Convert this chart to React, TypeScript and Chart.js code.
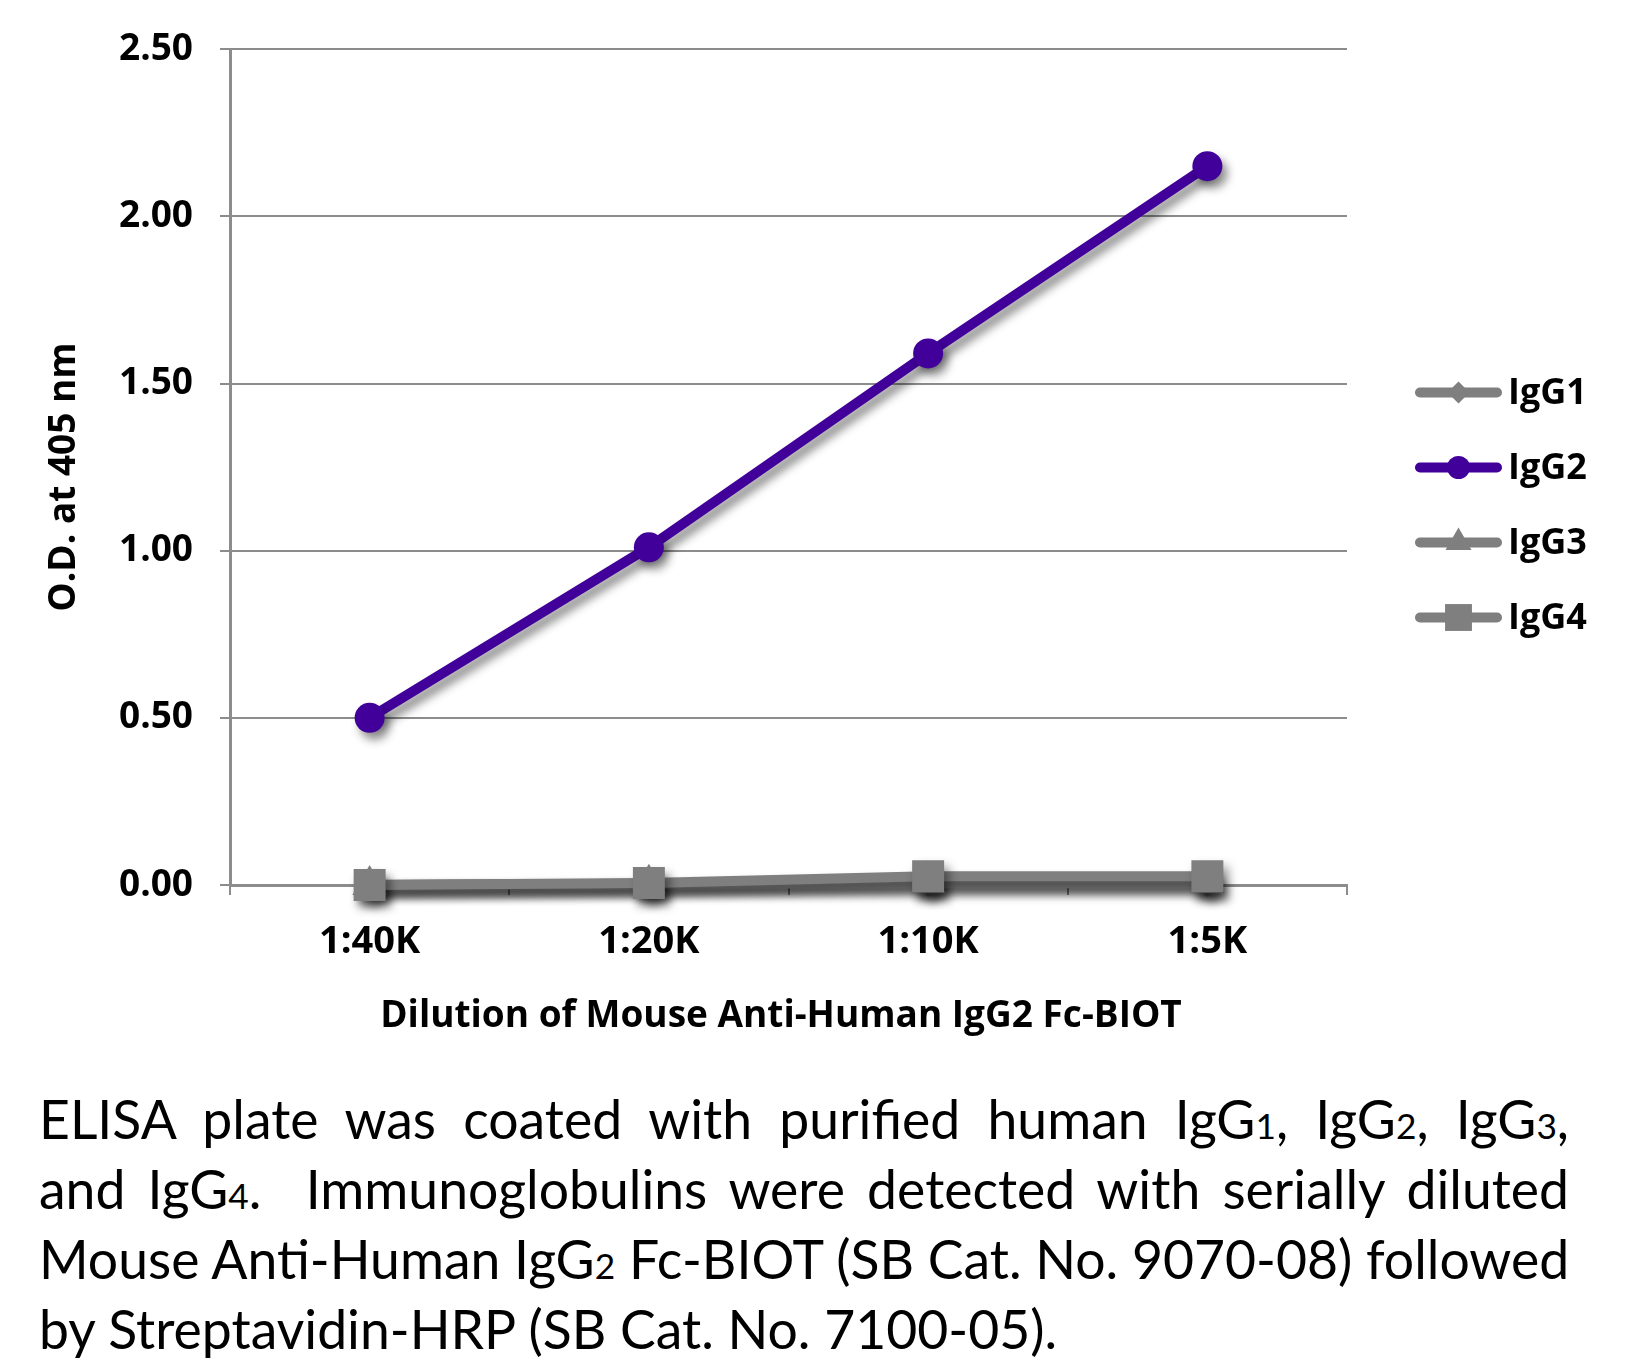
import React, { useEffect, useRef } from 'react';
import { Chart, registerables } from 'chart.js';
import { drawPoint } from 'chart.js/helpers';

Chart.register(...registerables);

const categories = ['1:40K', '1:20K', '1:10K', '1:5K'];
const seriesNames = ['IgG1', 'IgG2', 'IgG3', 'IgG4'];
const igg1 = [0.0, 0.004, 0.012, 0.012];
const igg2 = [0.5, 1.01, 1.59, 2.15];
const igg3 = [0.0, 0.004, 0.005, 0.005];
const igg4 = [0.0, 0.006, 0.026, 0.026];
const yTicks = [0, 0.5, 1.0, 1.5, 2.0, 2.5];
const yTitle = 'O.D. at 405 nm';
const xTitle = 'Dilution of Mouse Anti-Human IgG2 Fc-BIOT';

const GRAY = '#7f7f7f';
const PURPLE = '#41009a';
const GRID = '#8c8c8c';
const FONT = '"Open Sans", "Noto Sans", sans-serif';

const CANVAS_W = 1626;
const CANVAS_H = 1060;
const AREA_TOP = 45;
const AREA_BOTTOM = 885;
const AREA_LEFT = 230;
const AREA_RIGHT = 1347;

function makeSeries(label: string, data: number[], color: string, style: string, r: number, lr: number, order: number) {
  return {
    label,
    data,
    borderColor: color,
    backgroundColor: color,
    pointBackgroundColor: color,
    pointBorderColor: color,
    pointBorderWidth: 0,
    borderWidth: 10,
    pointStyle: style,
    pointRadius: r,
    pointHoverRadius: r,
    tension: 0,
    clip: false as any,
    order,
    legendRadius: lr,
  } as any;
}

const shadowPlugin = {
  id: 'markerShadow',
  beforeDatasetsDraw(chart: any) {
    const c = chart.ctx;
    c.save();
    c.shadowColor = 'rgba(0,0,0,0.45)';
    c.shadowBlur = 10;
    c.shadowOffsetX = 5;
    c.shadowOffsetY = 7;
  },
  afterDatasetsDraw(chart: any) {
    chart.ctx.restore();
  },
};

const axisTitlePlugin = {
  id: 'axisTitles',
  afterDraw(chart: any) {
    const ctx = chart.ctx;
    ctx.save();
    ctx.fillStyle = '#000';
    ctx.font = `bold 37px ${FONT}`;
    ctx.textAlign = 'center';
    ctx.textBaseline = 'middle';
    ctx.fillText(xTitle, 781, 1016);
    ctx.translate(64, 477);
    ctx.rotate(-Math.PI / 2);
    ctx.fillText(yTitle, 0, 0);
    ctx.restore();
  },
};

const legendPlugin = {
  id: 'sideLegend',
  afterDraw(chart: any) {
    const ctx = chart.ctx;
    const x0 = 1420;
    const x1 = 1497;
    const centerY = 505;
    const gap = 75;
    const n = chart.data.datasets.length;
    chart.data.datasets.forEach((ds: any, i: number) => {
      const y = centerY + (i - (n - 1) / 2) * gap;
      ctx.save();
      ctx.strokeStyle = ds.borderColor;
      ctx.lineWidth = 10;
      ctx.lineCap = 'round';
      ctx.beginPath();
      ctx.moveTo(x0, y);
      ctx.lineTo(x1, y);
      ctx.stroke();
      ctx.fillStyle = ds.pointBackgroundColor;
      ctx.strokeStyle = ds.pointBorderColor;
      drawPoint(ctx, { pointStyle: ds.pointStyle, radius: ds.legendRadius, rotation: 0, borderWidth: 0 } as any, (x0 + x1) / 2, y);
      ctx.fillStyle = '#000';
      ctx.font = `bold 36px ${FONT}`;
      ctx.textBaseline = 'middle';
      ctx.textAlign = 'left';
      ctx.fillText(ds.label, 1508, y + 1);
      ctx.restore();
    });
  },
};

const sub: React.CSSProperties = { fontSize: '0.66em' };
const lineBase: React.CSSProperties = {
  height: 70,
  lineHeight: '70px',
  textAlign: 'justify',
  whiteSpace: 'nowrap',
};

export default function App() {
  const ref = useRef<HTMLCanvasElement>(null);

  useEffect(() => {
    const canvas = ref.current;
    if (!canvas) return;
    const chart = new Chart(canvas, {
      type: 'line',
      data: {
        labels: categories,
        datasets: [
          makeSeries(seriesNames[0], igg1, GRAY, 'rectRot', 16, 11, 3),
          makeSeries(seriesNames[1], igg2, PURPLE, 'circle', 15, 11.5, 0),
          makeSeries(seriesNames[2], igg3, GRAY, 'triangle', 20, 15, 2),
          makeSeries(seriesNames[3], igg4, GRAY, 'rect', 22.6, 19, 1),
        ],
      },
      options: {
        responsive: false,
        maintainAspectRatio: false,
        animation: false,
        devicePixelRatio: 1,
        layout: { padding: { top: AREA_TOP, right: CANVAS_W - AREA_RIGHT, bottom: 0, left: 0 } },
        plugins: {
          legend: { display: false },
          tooltip: { enabled: false },
        },
        scales: {
          x: {
            type: 'category',
            offset: true,
            afterFit: (s: any) => {
              s.height = CANVAS_H - AREA_BOTTOM;
            },
            ticks: {
              font: { family: FONT, weight: 'bold', size: 38 },
              color: '#000',
              padding: 24,
              maxRotation: 0,
            },
            grid: {
              display: true,
              drawOnChartArea: false,
              drawTicks: true,
              tickLength: 10,
              offset: true,
              color: GRID,
              lineWidth: 2,
            },
            border: { display: true, color: GRID, width: 3 },
            title: { display: false, text: xTitle },
          },
          y: {
            type: 'linear',
            min: 0,
            max: 2.5,
            afterBuildTicks: (s: any) => {
              s.ticks = yTicks.map((v) => ({ value: v }));
            },
            afterFit: (s: any) => {
              s.width = AREA_LEFT;
            },
            ticks: {
              callback: (v: any) => Number(v).toFixed(2),
              font: { family: FONT, weight: 'bold', size: 37 },
              color: '#000',
              padding: 27,
            },
            grid: { color: GRID, lineWidth: 2, tickLength: 10, drawTicks: true },
            border: { display: true, color: GRID, width: 3 },
            title: { display: false, text: yTitle },
          },
        },
      } as any,
      plugins: [shadowPlugin, legendPlugin, axisTitlePlugin],
    });
    if ((document as any).fonts && (document as any).fonts.ready) {
      (document as any).fonts.ready.then(() => chart.update());
    }
    return () => chart.destroy();
  }, []);

  return (
    <div style={{ position: 'fixed', left: 0, top: 0, width: 1626, height: 1365, background: '#fff', overflow: 'hidden' }}>
      <canvas
        ref={ref}
        width={CANVAS_W}
        height={CANVAS_H}
        style={{ position: 'absolute', left: 0, top: 0, width: CANVAS_W, height: CANVAS_H }}
      />
      <div
        style={{
          position: 'absolute',
          left: 39,
          top: 1083,
          width: 1530,
          fontFamily: 'Lato, "Open Sans", sans-serif',
          fontSize: 53.5,
          color: '#000',
        }}
      >
        <div style={{ ...lineBase, textAlignLast: 'justify' }}>
          ELISA plate was coated with purified human IgG<span style={sub}>1</span>, IgG<span style={sub}>2</span>, IgG<span style={sub}>3</span>,
        </div>
        <div style={{ ...lineBase, textAlignLast: 'justify' }}>
          and IgG<span style={sub}>4</span>.{'\u00a0 '}Immunoglobulins were detected with serially diluted
        </div>
        <div style={{ ...lineBase, textAlignLast: 'justify' }}>
          Mouse Anti-Human IgG<span style={sub}>2</span> Fc-BIOT (SB Cat. No. 9070-08) followed
        </div>
        <div style={{ ...lineBase }}>
          by Streptavidin-HRP (SB Cat. No. 7100-05).
        </div>
      </div>
    </div>
  );
}
